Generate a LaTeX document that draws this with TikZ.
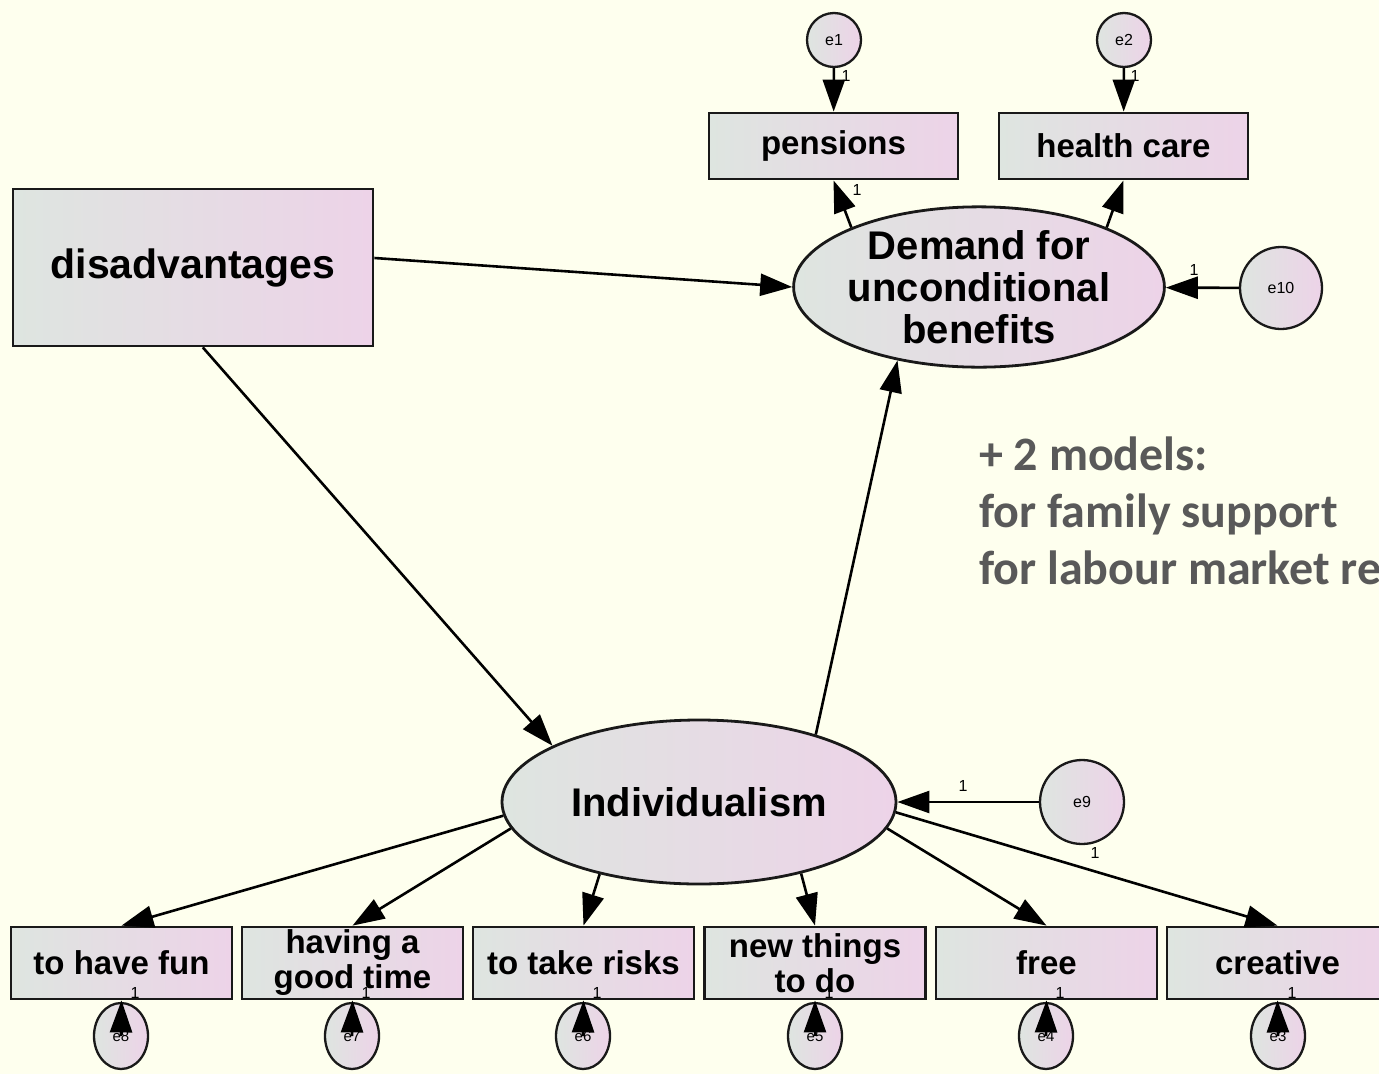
\documentclass[tikz,border=0pt]{standalone}
\usepackage{fontspec}
\setmainfont{Liberation Sans}
\newfontfamily\calibfont{Carlito}
\usetikzlibrary{arrows.meta,shapes.geometric}
\definecolor{bgc}{RGB}{254,255,238}
\definecolor{lgc}{RGB}{222,229,224}
\definecolor{rpk}{RGB}{237,211,232}
\definecolor{txtgray}{RGB}{89,89,89}
\begin{document}
\begin{tikzpicture}[x=1pt,y=-1pt,
  shaded/.style={draw=black!90, line width=2.8pt, left color=lgc, right color=rpk, inner sep=0pt, align=center},
  obsbox/.style={shaded, rectangle, minimum width=221pt, minimum height=72pt,
    font=\fontsize{33}{35}\selectfont\bfseries},
  topbox/.style={shaded, rectangle, minimum width=249pt, minimum height=66pt,
    font=\fontsize{33}{36}\selectfont\bfseries},
  latent/.style={shaded, ellipse},
  errc/.style={shaded, circle, line width=2.3pt, font=\fontsize{16}{18}\selectfont},
  errb/.style={shaded, ellipse, line width=2.3pt, minimum width=54pt, minimum height=66pt, font=\fontsize{15}{17}\selectfont},
  path/.style={line width=2.6pt, -{Triangle[length=32pt,width=22pt]}},
  one/.style={font=\fontsize{16}{18}\selectfont, inner sep=0pt},
  note/.style={anchor=base west, inner sep=0pt, text=txtgray, font=\fontsize{48}{57}\selectfont\calibfont\bfseries}]
\useasboundingbox (0,0) rectangle (1379,1074);
\clip (0,0) rectangle (1379,1074);
\fill[bgc] (0,0) rectangle (1379,1074);

% observed top
\node[topbox] (pen) at (833.5,146) {pensions};
\node[topbox] (hc) at (1123.5,146) {health care};
\node[errc, minimum size=54pt] (e1) at (834,40) {e1};
\node[errc, minimum size=54pt] (e2) at (1124,40) {e2};

% latent
\node[latent, minimum width=362pt, minimum height=156pt, font=\fontsize{40}{42}\selectfont\bfseries] (dem) at (979,287) {Demand for\\unconditional\\benefits};
\node[errc, minimum size=82pt] (e10) at (1281,288) {e10};
\node[shaded, rectangle, minimum width=360pt, minimum height=157pt, font=\fontsize{41}{44}\selectfont\bfseries] (dis) at (193,267.5) {disadvantages};
\node[latent, minimum width=394pt, minimum height=164pt, font=\fontsize{40}{42}\selectfont\bfseries] (ind) at (699,802) {Individualism};
\node[errc, minimum size=84pt] (e9) at (1082,802) {e9};

% bottom boxes
\node[obsbox] (b1) at (121.5,963) {to have fun};
\node[obsbox] (b2) at (352.5,963) {having a\\good time};
\node[obsbox] (b3) at (583.5,963) {to take risks};
\node[obsbox] (b4) at (815,963) {new things\\to do};
\node[obsbox] (b5) at (1046.5,963) {free};
\node[obsbox] (b6) at (1277.5,963) {creative};

\node[errb] (e8) at (121,1036) {e8};
\node[errb] (e7) at (352,1036) {e7};
\node[errb] (e6) at (583,1036) {e6};
\node[errb] (e5) at (815,1036) {e5};
\node[errb] (e4) at (1046,1036) {e4};
\node[errb] (e3) at (1278,1036) {e3};

% paths
\draw[path] (e1) -- (pen);
\draw[path] (e2) -- (hc);
\draw[path] (dem.155) -- (pen.south);
\draw[path] (dem.25) -- (hc.south);
\draw[path] (e10) -- (dem);
\draw[path] (dis.3) -- (dem.west);
\draw[path] (dis.-83) -- (ind.159);
\draw[path] (ind.30) -- (dem.222);
\draw[path] (e9) -- (ind);
\draw[path] (ind.184) -- (b1.north);
\draw[path] (ind.188) -- (b2.north);
\draw[path] (ind.216) -- (b3.north);
\draw[path] (ind.325) -- (b4.north);
\draw[path] (ind.352) -- (b5.north);
\draw[path] (ind.357) -- (b6.north);
\draw[path] (e8.center) -- (b1.south);
\draw[path] (e7.center) -- (b2.south);
\draw[path] (e6.center) -- (b3.south);
\draw[path] (e5.center) -- (b4.south);
\draw[path] (e4.center) -- (b5.south);
\draw[path] (e3.center) -- (b6.south);

% labels "1"
\node[one] (l1) at (846,76) {1};
\node[one] (l2) at (1135,76) {1};
\node[one] (l3) at (857,190) {1};
\node[one] (l4) at (1194,270) {1};
\node[one] (l5) at (963,786) {1};
\node[one] (l6) at (1095,853) {1};
\node[one] (l7) at (135,993) {1};
\node[one] (l8) at (366,993) {1};
\node[one] (l9) at (597,993) {1};
\node[one] (l10) at (829,993) {1};
\node[one] (l11) at (1060,993) {1};
\node[one] (l12) at (1292,993) {1};

% note
\node[note] (m1) at (979,470) {+ 2 models:};
\node[note] (m2) at (979,527) {for family support};
\node[note] (m3) at (979,584) {for labour market re};
\end{tikzpicture}
\end{document}
